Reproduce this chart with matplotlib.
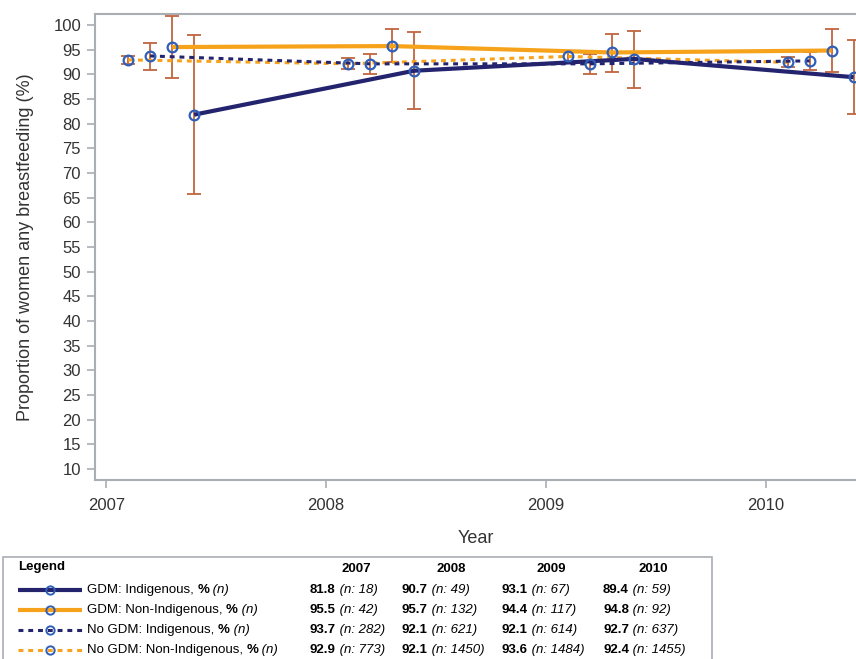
import matplotlib
matplotlib.use("Agg")
import matplotlib.pyplot as plt
from matplotlib.lines import Line2D
from matplotlib.patches import Rectangle
from matplotlib.transforms import IdentityTransform

plt.rcParams['font.family'] = ['Liberation Sans', 'DejaVu Sans']

years = [2007, 2008, 2009, 2010]

# value, CI low, CI high and n for each group
gdm_ind_val = [81.8, 90.7, 93.1, 89.4]
gdm_ind_lo = [65.7, 83.0, 87.2, 81.9]
gdm_ind_hi = [98.0, 98.5, 98.8, 97.0]
gdm_ind_n = [18, 49, 67, 59]

gdm_non_val = [95.5, 95.7, 94.4, 94.8]
gdm_non_lo = [89.2, 92.4, 90.4, 90.4]
gdm_non_hi = [101.7, 99.1, 98.2, 99.1]
gdm_non_n = [42, 132, 117, 92]

nogdm_ind_val = [93.7, 92.1, 92.1, 92.7]
nogdm_ind_lo = [90.9, 90.1, 90.1, 90.9]
nogdm_ind_hi = [96.3, 94.1, 94.1, 94.5]
nogdm_ind_n = [282, 621, 614, 637]

nogdm_non_val = [92.9, 92.1, 93.6, 92.4]
nogdm_non_lo = [92.0, 91.1, 92.4, 91.4]
nogdm_non_hi = [93.7, 93.2, 94.6, 93.4]
nogdm_non_n = [773, 1450, 1484, 1455]

labels = ["GDM: Indigenous, ", "GDM: Non-Indigenous, ",
          "No GDM: Indigenous, ", "No GDM: Non-Indigenous, "]

NAVY = "#24246e"
ORANGE = "#f7a21b"
MARKER = "#2f5fb8"
ERR = "#c0653f"
GRID = "#a9aeb3"

series = [
    # legend row, values, lo, hi, n, offset, colour, linestyle, width
    (3, nogdm_non_val, nogdm_non_lo, nogdm_non_hi, nogdm_non_n, 0.1, ORANGE, (0, (1.6, 1.6)), 2.2),
    (2, nogdm_ind_val, nogdm_ind_lo, nogdm_ind_hi, nogdm_ind_n, 0.2, NAVY, (0, (1.6, 1.6)), 2.2),
    (1, gdm_non_val, gdm_non_lo, gdm_non_hi, gdm_non_n, 0.3, ORANGE, "-", 3.0),
    (0, gdm_ind_val, gdm_ind_lo, gdm_ind_hi, gdm_ind_n, 0.4, NAVY, "-", 3.0),
]

fig = plt.figure(figsize=(8.56, 6.59), dpi=100)
ax = fig.add_axes([95 / 856, 1 - 480 / 659, 1 - 95 / 856, (480 - 14) / 659])

for idx, val, lo, hi, n, off, col, ls, lw in series:
    xs = [y + off for y in years]
    yerr = [[v - l for v, l in zip(val, lo)], [h - v for v, h in zip(val, hi)]]
    ax.errorbar(xs, val, yerr=yerr, fmt="none", ecolor=ERR, elinewidth=1.3,
                capsize=5, capthick=1.3, zorder=2, clip_on=False)
    ax.plot(xs, val, color=col, linestyle=ls, linewidth=lw, zorder=3,
            solid_capstyle="butt", dash_capstyle="butt")
    ax.plot(xs, val, linestyle="none", marker="o", markersize=7,
            markerfacecolor="none", markeredgecolor=MARKER, markeredgewidth=1.6,
            zorder=4, clip_on=False)

ax.set_xlim(2006.949, 2010.411)
ax.set_ylim(7.77, 102.2)
ax.set_xticks(years)
ax.set_xticklabels([str(y) for y in years])
ax.set_yticks(range(10, 101, 5))
ax.tick_params(axis="both", colors=GRID, labelcolor="#333333", labelsize=12,
               length=6, width=1.2, direction="out")
ax.tick_params(axis="x", pad=7)
ax.tick_params(axis="y", pad=4)
for s in ["left", "bottom", "top"]:
    ax.spines[s].set_color(GRID)
    ax.spines[s].set_linewidth(1.5)
ax.spines["right"].set_visible(False)
ax.set_xlabel("Year", fontsize=13, color="#333333", labelpad=12)
ax.set_ylabel("Proportion of women any breastfeeding (%)", fontsize=13,
              color="#333333", labelpad=14)

# legend table below the plot, laid out in pixel coordinates (y from top)
H = 659
box = Rectangle((3, -5), 709, H - 557 + 5, transform=IdentityTransform(),
                fill=False, edgecolor=GRID, linewidth=1.2)
fig.patches.append(box)

renderer = fig.canvas.get_renderer()


def put_pieces(x, y, pieces, size=9.5):
    # pieces: list of (text, weight, style)
    for txt, weight, style in pieces:
        t = fig.text(x, H - y, txt, transform=IdentityTransform(), fontsize=size,
                     fontweight=weight, fontstyle=style, va="center", ha="left",
                     color="black")
        x = t.get_window_extent(renderer=renderer).x1


fig.text(18, H - 567, "Legend", transform=IdentityTransform(), fontsize=9.5,
         fontweight="bold", va="center", ha="left")
head_x = [356, 451, 551, 653]
for hx, yr in zip(head_x, years):
    fig.text(hx, H - 569, str(yr), transform=IdentityTransform(), fontsize=9.5,
             fontweight="bold", va="center", ha="center")

row_y = [590, 610, 630, 650]
val_x = [310, 402, 502, 603]
for idx, val, lo, hi, n, off, col, ls, lw in series:
    ry = row_y[idx]
    fig.lines.append(Line2D([18, 82], [H - ry, H - ry], transform=IdentityTransform(),
                            color=col, linestyle=ls, linewidth=lw,
                            solid_capstyle="butt", dash_capstyle="butt"))
    fig.lines.append(Line2D([50], [H - ry], transform=IdentityTransform(),
                            marker="o", markersize=6, markerfacecolor="none",
                            markeredgecolor=MARKER, markeredgewidth=1.4))
    put_pieces(87, ry, [(labels[idx], "normal", "normal"), ("%", "bold", "normal"),
                        (" (n)", "normal", "italic")])
    for vx, v, nn in zip(val_x, val, n):
        put_pieces(vx, ry, [(f"{v:.1f}", "bold", "normal"),
                            (f" (n: {nn})", "normal", "italic")])

fig.savefig("out.png", dpi=100)
